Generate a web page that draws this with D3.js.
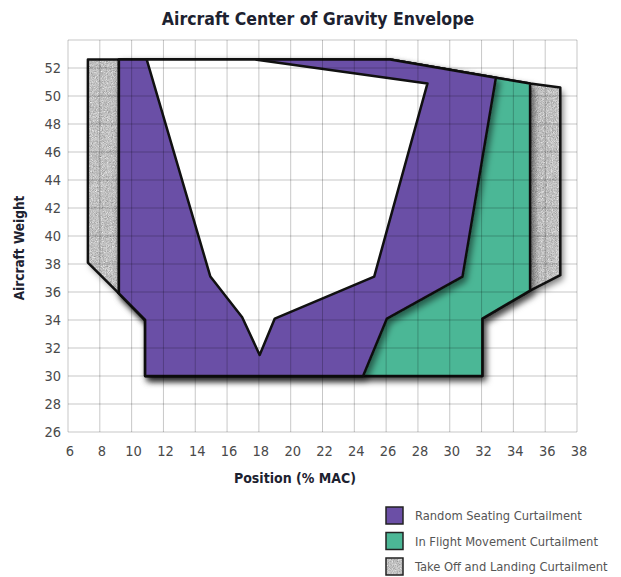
<!DOCTYPE html>
<html>
<head>
<meta charset="utf-8">
<script src="https://cdn.jsdelivr.net/npm/d3@7"></script>
<style>
  body { margin: 0; background: #fff; }
  .tick-label { font-family: "DejaVu Sans Condensed", sans-serif; font-size: 14.5px; fill: #4a4a4a; }
  .bold-label { font-family: "DejaVu Sans Condensed", sans-serif; font-weight: bold; fill: #1d2230; }
  .legend-label { font-family: "DejaVu Sans Condensed", sans-serif; font-size: 12.8px; fill: #555; }
</style>
</head>
<body>
<svg id="chart" width="621" height="577"></svg>
<script>
// tick labels
var xTicks = [6, 8, 10, 12, 14, 16, 18, 20, 22, 24, 26, 28, 30, 32, 34, 36, 38];
var yTicks = [26, 28, 30, 32, 34, 36, 38, 40, 42, 44, 46, 48, 50, 52];
var yGrid = [26, 28, 30, 32, 34, 36, 38, 40, 42, 44, 46, 48, 50, 52, 54];

// envelopes as [position %MAC, weight]
var takeOffLanding = [[7.25, 52.6], [26.25, 52.6], [32.9, 51.3], [35.05, 50.9], [36.95, 50.6],
  [36.95, 37.2], [35.05, 36.1], [32.05, 34.1], [32.05, 30.0], [10.85, 30.0], [10.85, 34.0],
  [9.2, 35.9], [7.25, 38.1]];
var inFlight = [[9.2, 52.6], [26.25, 52.6], [32.9, 51.3], [35.05, 50.9], [35.05, 36.1],
  [32.05, 34.1], [32.05, 30.0], [10.85, 30.0], [10.85, 34.0], [9.2, 35.9]];
var randomSeating = [[9.2, 52.6], [26.25, 52.6], [32.9, 51.3], [30.8, 37.1], [26.05, 34.1],
  [24.55, 30.0], [10.85, 30.0], [10.85, 34.0], [9.2, 35.9]];
var openEnvelope = [[10.95, 52.6], [17.75, 52.6], [28.6, 50.9], [25.25, 37.1], [19.0, 34.1],
  [18.05, 31.5], [16.95, 34.2], [14.95, 37.1]];

var legendNames = ["Random Seating Curtailment", "In Flight Movement Curtailment", "Take Off and Landing Curtailment"];

var svg = d3.select("#chart"),
  margins = {top: 40, right: 44, bottom: 145, left: 68},
  width = 621, height = 577;

var x = d3.scaleLinear().domain([6, 38]).range([margins.left, width - margins.right]);
var y = d3.scaleLinear().domain([26, 54]).range([height - margins.bottom, margins.top]);

var defs = svg.append("defs");

var speckle = defs.append("filter").attr("id", "speckle")
  .attr("x", 0).attr("y", 0).attr("width", 1).attr("height", 1)
  .attr("color-interpolation-filters", "sRGB");
speckle.append("feTurbulence").attr("type", "fractalNoise")
  .attr("baseFrequency", 1.2).attr("numOctaves", 2).attr("seed", 3).attr("result", "noise");
speckle.append("feColorMatrix").attr("in", "noise").attr("type", "matrix")
  .attr("values", "0.25 0.25 0.25 0 0.38  0.25 0.25 0.25 0 0.38  0.25 0.25 0.25 0 0.38  0 0 0 0 1")
  .attr("result", "gray");
speckle.append("feComposite").attr("in", "gray").attr("in2", "SourceGraphic").attr("operator", "in");

var shadow = defs.append("filter").attr("id", "shadow")
  .attr("x", "-10%").attr("y", "-10%").attr("width", "120%").attr("height", "120%");
shadow.append("feDropShadow").attr("dx", 3).attr("dy", 4).attr("stdDeviation", 3)
  .attr("flood-color", "#000").attr("flood-opacity", 0.5);

var line = d3.line().x(function (d) { return x(d[0]); }).y(function (d) { return y(d[1]); })
  .curve(d3.curveLinearClosed);

// title
svg.append("text").attr("class", "bold-label")
  .attr("x", 318).attr("y", 25).attr("text-anchor", "middle")
  .style("font-size", "17.5px").text("Aircraft Center of Gravity Envelope");

// shapes
var shapes = svg.append("g");

shapes.append("path").attr("d", line(takeOffLanding)).attr("fill", "#000")
  .attr("filter", "url(#shadow)");
shapes.append("path").attr("d", line(takeOffLanding)).attr("fill", "#aaa")
  .attr("filter", "url(#speckle)");
shapes.append("path").attr("d", line(takeOffLanding)).attr("fill", "none")
  .attr("stroke", "#111").attr("stroke-width", 2.5).attr("stroke-linejoin", "round");

shapes.append("path").attr("d", line(inFlight)).attr("fill", "#4cb796")
  .attr("stroke", "#111").attr("stroke-width", 2.5).attr("stroke-linejoin", "round")
  .attr("filter", "url(#shadow)");

shapes.append("path").attr("d", line(randomSeating)).attr("fill", "#6b4fa6")
  .attr("stroke", "#111").attr("stroke-width", 2.5).attr("stroke-linejoin", "round")
  .attr("filter", "url(#shadow)");

shapes.append("path").attr("d", line(openEnvelope)).attr("fill", "#fff")
  .attr("stroke", "#111").attr("stroke-width", 2.5).attr("stroke-linejoin", "round");

// grid on top so it shows through the fills
var grid = svg.append("g").attr("stroke", "rgba(0,0,0,0.22)").attr("stroke-width", 1);
grid.selectAll(".vx").data(xTicks).enter().append("line")
  .attr("x1", function (d) { return x(d); }).attr("x2", function (d) { return x(d); })
  .attr("y1", y(26)).attr("y2", y(54));
grid.selectAll(".hy").data(yGrid).enter().append("line")
  .attr("x1", x(6)).attr("x2", x(38))
  .attr("y1", function (d) { return y(d); }).attr("y2", function (d) { return y(d); });

// tick labels
svg.append("g").selectAll("text").data(xTicks).enter().append("text")
  .attr("class", "tick-label").attr("text-anchor", "middle")
  .attr("x", function (d) { return x(d) + 2; }).attr("y", 456)
  .text(function (d) { return d; });
svg.append("g").selectAll("text").data(yTicks).enter().append("text")
  .attr("class", "tick-label").attr("text-anchor", "end")
  .attr("x", 61).attr("y", function (d) { return y(d) + 5; })
  .text(function (d) { return d; });

// axis titles
svg.append("text").attr("class", "bold-label")
  .attr("x", 295).attr("y", 483).attr("text-anchor", "middle")
  .style("font-size", "14px").text("Position (% MAC)");
svg.append("text").attr("class", "bold-label")
  .attr("transform", "translate(24,248) rotate(-90)").attr("text-anchor", "middle")
  .style("font-size", "13.5px").text("Aircraft Weight");

// legend
var fills = ["#6b4fa6", "#4cb796", "#aaa"];
var legend = svg.append("g").selectAll("g").data(legendNames).enter().append("g")
  .attr("transform", function (d, i) { return "translate(386," + (507 + i * 25.5) + ")"; });
legend.append("rect").attr("width", 17).attr("height", 17)
  .attr("fill", function (d, i) { return fills[i]; })
  .attr("filter", function (d, i) { return i === 2 ? "url(#speckle)" : null; });
legend.append("rect").attr("width", 17).attr("height", 17)
  .attr("fill", "none").attr("stroke", "#222").attr("stroke-width", 1.5);
legend.append("text").attr("class", "legend-label")
  .attr("x", 29).attr("y", 13).text(function (d) { return d; });
</script>
</body>
</html>
